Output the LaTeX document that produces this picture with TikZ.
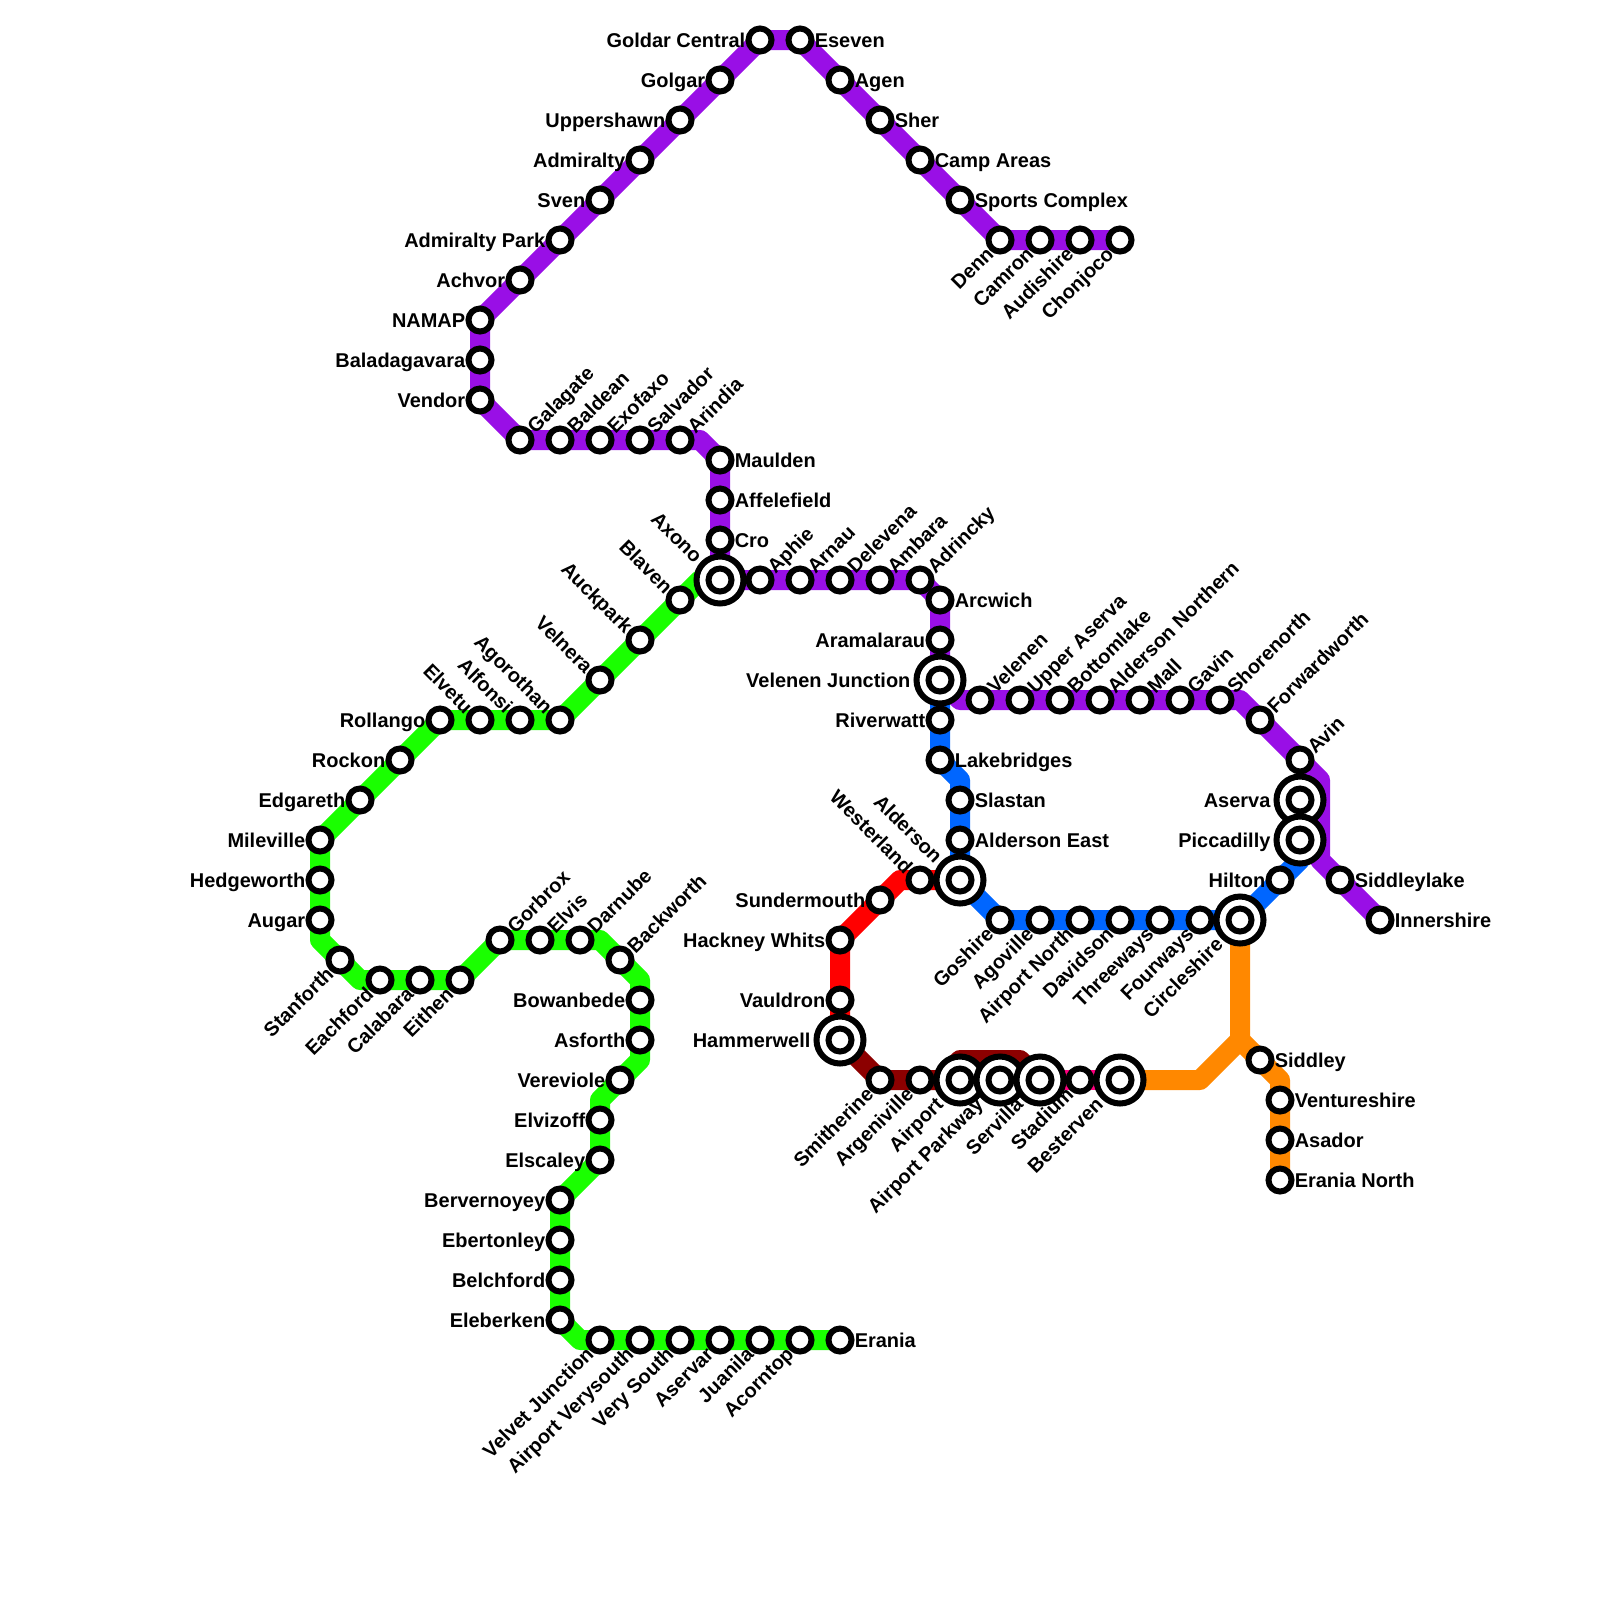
\documentclass[tikz,border=0pt]{standalone}
\usepackage{fontspec}
\setmainfont{Liberation Sans}
\usetikzlibrary{positioning}
\pgfdeclarelayer{lines}
\pgfsetlayers{lines,main}
\definecolor{linePurple}{RGB}{153,15,230}
\definecolor{lineGreen}{RGB}{26,255,0}
\definecolor{lineBlue}{RGB}{0,102,255}
\definecolor{lineRed}{RGB}{255,0,0}
\definecolor{lineMaroon}{RGB}{140,0,0}
\definecolor{linePink}{RGB}{255,0,128}
\definecolor{lineOrange}{RGB}{255,136,0}
\tikzset{
  route/.style={line width=.25cm,line join=round},
  stn/.style={circle,draw=black,fill=white,line width=.075cm,minimum size=.2875cm,inner sep=0pt},
  hub/.style={circle,draw=black,fill=white,line width=.075cm,minimum size=.5875cm,inner sep=0pt},
  lbl/.style={font=\fontsize{7.1pt}{8pt}\selectfont\bfseries,text height=5.2pt,text depth=0pt,inner sep=0pt,outer sep=0pt},
  lE/.style={anchor=west,xshift=.185cm},
  lW/.style={anchor=east,xshift=-.185cm},
  lNE/.style={rotate=45,anchor=west,xshift=.185cm},
  lSW/.style={rotate=45,anchor=east,xshift=-.185cm},
  lNW/.style={rotate=-45,anchor=east,xshift=-.185cm},
  hW/.style={anchor=east,xshift=-.37cm},
  hSW/.style={rotate=45,anchor=east,xshift=-.37cm},
  hNW/.style={rotate=-45,anchor=east,xshift=-.37cm}
}
\begin{document}
\begin{tikzpicture}[x=.5cm,y=-.5cm]
  \useasboundingbox (0,0) rectangle (40,40);

  % Stations
  \foreach \cx/\cy/\sid/\lab/\txt in {
    19/1/goldar/lW/Goldar Central, 20/1/eseven/lE/Eseven, 21/2/agen/lE/Agen, 22/3/sher/lE/Sher,
    23/4/camp/lE/Camp Areas, 24/5/sports/lE/Sports Complex, 25/6/denn/lSW/Denn, 26/6/camron/lSW/Camron,
    27/6/audishire/lSW/Audishire, 28/6/chonjoco/lSW/Chonjoco, 18/2/golgar/lW/Golgar,
    17/3/uppershawn/lW/Uppershawn, 16/4/admiralty/lW/Admiralty, 15/5/sven/lW/Sven,
    14/6/admpark/lW/Admiralty Park, 13/7/achvor/lW/Achvor, 12/8/namap/lW/NAMAP,
    12/9/baladagavara/lW/Baladagavara, 12/10/vendor/lW/Vendor, 13/11/galagate/lNE/Galagate,
    14/11/baldean/lNE/Baldean, 15/11/exofaxo/lNE/Exofaxo, 16/11/salvador/lNE/Salvador,
    17/11/arindia/lNE/Arindia, 18/11.5/maulden/lE/Maulden, 18/12.5/affelefield/lE/Affelefield,
    18/13.5/cro/lE/Cro, 19/14.5/aphie/lNE/Aphie, 20/14.5/arnau/lNE/Arnau, 21/14.5/delevena/lNE/Delevena,
    22/14.5/ambara/lNE/Ambara, 23/14.5/adrincky/lNE/Adrincky, 23.5/15/arcwich/lE/Arcwich,
    23.5/16/aramalarau/lW/Aramalarau, 24.5/17.5/velenen/lNE/Velenen, 25.5/17.5/upperaserva/lNE/Upper Aserva,
    26.5/17.5/bottomlake/lNE/Bottomlake, 27.5/17.5/aldnorth/lNE/Alderson Northern, 28.5/17.5/mall/lNE/Mall,
    29.5/17.5/gavin/lNE/Gavin, 30.5/17.5/shorenorth/lNE/Shorenorth, 31.5/18/forwardworth/lNE/Forwardworth,
    32.5/19/avin/lNE/Avin, 33.5/22/siddleylake/lE/Siddleylake, 34.5/23/innershire/lE/Innershire,
    17/15/blaven/lNW/Blaven, 16/16/auckpark/lNW/Auckpark, 15/17/velnera/lNW/Velnera,
    14/18/agorothan/lNW/Agorothan, 13/18/alfonsi/lNW/Alfonsi, 12/18/elvetu/lNW/Elvetu,
    11/18/rollango/lW/Rollango, 10/19/rockon/lW/Rockon, 9/20/edgareth/lW/Edgareth,
    8/21/mileville/lW/Mileville, 8/22/hedgeworth/lW/Hedgeworth, 8/23/augar/lW/Augar,
    8.5/24/stanforth/lSW/Stanforth, 9.5/24.5/eachford/lSW/Eachford, 10.5/24.5/calabara/lSW/Calabara,
    11.5/24.5/eithen/lSW/Eithen, 12.5/23.5/gorbrox/lNE/Gorbrox, 13.5/23.5/elvis/lNE/Elvis,
    14.5/23.5/darnube/lNE/Darnube, 15.5/24/backworth/lNE/Backworth, 16/25/bowanbede/lW/Bowanbede,
    16/26/asforth/lW/Asforth, 15.5/27/vereviole/lW/Vereviole, 15/28/elvizoff/lW/Elvizoff,
    15/29/elscaley/lW/Elscaley, 14/30/bervernoyey/lW/Bervernoyey, 14/31/ebertonley/lW/Ebertonley,
    14/32/belchford/lW/Belchford, 14/33/eleberken/lW/Eleberken, 15/33.5/velvet/lSW/Velvet Junction,
    16/33.5/verysouthair/lSW/Airport Verysouth, 17/33.5/verysouth/lSW/Very South, 18/33.5/aservar/lSW/Aservar,
    19/33.5/juanila/lSW/Juanila, 20/33.5/acorntop/lSW/Acorntop, 21/33.5/erania/lE/Erania,
    23.5/18/riverwatt/lW/Riverwatt, 23.5/19/lakebridges/lE/Lakebridges, 24/20/slastan/lE/Slastan,
    24/21/aldeast/lE/Alderson East, 25/23/goshire/lSW/Goshire, 26/23/agoville/lSW/Agoville,
    27/23/airnorth/lSW/Airport North, 28/23/davidson/lSW/Davidson, 29/23/threeways/lSW/Threeways,
    30/23/fourways/lSW/Fourways, 32/22/hilton/lW/Hilton, 23/22/westerland/lNW/Westerland,
    22/22.5/sundermouth/lW/Sundermouth, 21/23.5/hackney/lW/Hackney Whits, 21/25/vauldron/lW/Vauldron,
    22/27/smitherine/lSW/Smitherine, 23/27/argeniville/lSW/Argeniville, 27/27/stadium/lSW/Stadium,
    31.5/26.5/siddley/lE/Siddley, 32/27.5/ventureshire/lE/Ventureshire, 32/28.5/asador/lE/Asador,
    32/29.5/eranianorth/lE/Erania North}{
    \node[stn] (\sid) at (\cx,\cy) {};
    \node[lbl,\lab] (\sid-t) at (\sid) {\txt};
  }

  % Interchanges
  \foreach \cx/\cy/\sid/\lab/\txt in {
    18/14.5/axono/hNW/Axono, 23.5/17/veljunction/hW/Velenen Junction, 32.5/20/aserva/hW/Aserva,
    32.5/21/piccadilly/hW/Piccadilly, 31/23/circleshire/hSW/Circleshire, 24/22/alderson/hNW/Alderson,
    21/26/hammerwell/hW/Hammerwell, 24/27/airport/hSW/Airport, 25/27/airparkway/hSW/Airport Parkway,
    26/27/servilla/hSW/Servilla, 28/27/besterven/hSW/Besterven}{
    \node[hub] (\sid) at (\cx,\cy) {};
    \node[stn] (\sid-c) at (\sid) {};
    \node[lbl,\lab] (\sid-t) at (\sid) {\txt};
  }

  % Bends
  \coordinate (bArindia) at (17.5,11);
  \coordinate (bCro) at (18,14);
  \coordinate (bAphie) at (18.5,14.5);
  \coordinate (bBlaven) at (17.5,14.5);
  \coordinate (bVelenen) at (24,17.5);
  \coordinate (bShore) at (31,17.5);
  \coordinate (bAvin) at (33,19.5);
  \coordinate (bSiddley) at (33,21.5);
  \coordinate (bAugar) at (8,23.5);
  \coordinate (bEach) at (9,24.5);
  \coordinate (bDarnube) at (15,23.5);
  \coordinate (bBack) at (16,24.5);
  \coordinate (bAsforth) at (16,26.5);
  \coordinate (bElviz) at (15,27.5);
  \coordinate (bEleb) at (14.5,33.5);
  \coordinate (bLake) at (24,19.5);
  \coordinate (bHilton) at (32.5,21.5);
  \coordinate (bWest) at (22.5,22);
  \coordinate (bArgen) at (23.5,27);
  \coordinate (bTopL) at (24,26.5);
  \coordinate (bTopR) at (25.5,26.5);
  \coordinate (bBest) at (30,27);
  \coordinate (bFork) at (31,26);
  \coordinate (bSidd) at (32,27);

  % Lines
  \begin{pgfonlayer}{lines}
    \draw[route,lineGreen] (axono.center) -- (bBlaven) -- (agorothan.center) -- (rollango.center) -- (mileville.center)
      -- (augar.center) -- (bAugar) -- (stanforth.center) -- (bEach) -- (eachford.center) -- (eithen.center)
      -- (gorbrox.center) -- (bDarnube) -- (backworth.center) -- (bBack) -- (asforth.center) -- (bAsforth)
      -- (vereviole.center) -- (bElviz) -- (elscaley.center) -- (bervernoyey.center) -- (eleberken.center)
      -- (bEleb) -- (erania.center);
    \draw[route,lineRed] (alderson.center) -- (bWest) -- (hackney.center) -- (hammerwell.center);
    \draw[route,lineMaroon] (hammerwell.center) -- (smitherine.center) -- (bArgen) -- (bTopL) -- (bTopR) -- (servilla.center);
    \draw[route,lineMaroon] (bArgen) -- (servilla.center);
    \draw[route,linePink] (servilla.center) -- (besterven.center);
    \draw[route,lineOrange] (besterven.center) -- (bBest) -- (bFork) -- (circleshire.center);
    \draw[route,lineOrange] (bFork) -- (bSidd) -- (eranianorth.center);
    \draw[route,lineBlue] (veljunction.center) -- (lakebridges.center) -- (bLake) -- (alderson.center)
      -- (goshire.center) -- (circleshire.center) -- (bHilton) -- (piccadilly.center);
    \draw[route,linePurple] (chonjoco.center) -- (denn.center) -- (eseven.center) -- (goldar.center)
      -- (namap.center) -- (vendor.center) -- (galagate.center) -- (bArindia) -- (maulden.center) -- (bCro)
      -- (bAphie) -- (adrincky.center) -- (arcwich.center) -- (veljunction.center) -- (bVelenen) -- (bShore)
      -- (bAvin) -- (bSiddley) -- (innershire.center);
  \end{pgfonlayer}
\end{tikzpicture}
\end{document}
